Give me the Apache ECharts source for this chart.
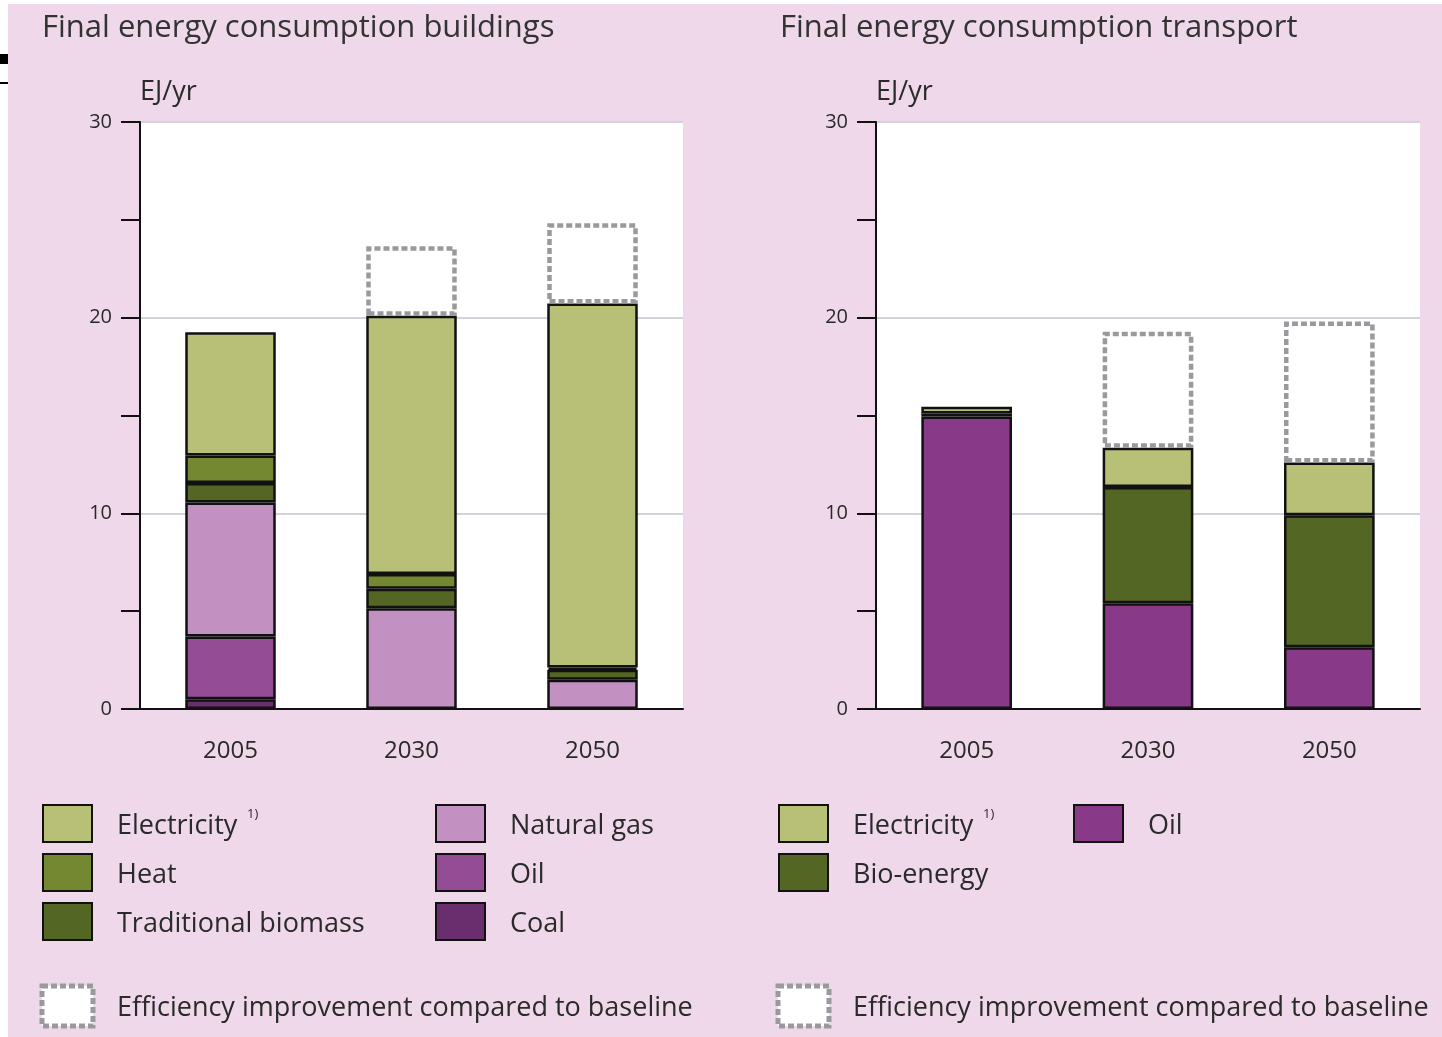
<!DOCTYPE html>
<html>
<head>
<meta charset="utf-8">
<title>Final energy consumption</title>
<script src="https://cdn.jsdelivr.net/npm/echarts@6/dist/echarts.min.js"></script>
<style>
  html, body { margin: 0; padding: 0; background: #fff; }
  #bg { position: absolute; left: 8px; top: 4px; width: 1434px; height: 1033px; background: #efd8ea; }
  #chart { position: absolute; left: 0; top: 0; width: 1442px; height: 1037px; }
</style>
</head>
<body>
<div id="bg"></div>
<div id="chart"></div>
<script>
// categories
const years = ["2005", "2030", "2050"];

// buildings (EJ/yr), bottom -> top
const bCoal = [0.5, null, null];
const bOil = [3.2, null, null];
const bGas = [6.85, 5.15, 1.5];
const bTradBiomass = [1.0, 1.0, 0.5];
const bHeat = [1.4, 0.75, 0.12];
const bElectricity = [6.3, 13.2, 18.6];
const bEfficiency = [null, 3.55, 4.1];

// transport (EJ/yr), bottom -> top
const tOil = [14.95, 5.4, 3.15];
const tBio = [0.15, 5.95, 6.75];
const tElectricity = [0.35, 2.0, 2.7];
const tEfficiency = [null, 5.93, 7.2];

const yTicks = [0, 10, 20, 30];

const COL = {
  elec: "#b8c077",
  heat: "#748731",
  trad: "#536623",
  gas: "#c291c2",
  oil: "#944d94",
  coal: "#6a2d6e",
  tOil: "#883a89",
  bio: "#536623",
  eff: "#9a9a9e"
};
const FONT = "Open Sans";
const TXT = "#2a2a2a";

const chart = echarts.init(document.getElementById("chart"));

function barSeries(name, data, color, axisIdx) {
  return {
    name: name,
    type: "bar",
    stack: "s" + axisIdx,
    xAxisIndex: axisIdx,
    yAxisIndex: axisIdx,
    barWidth: "50%",
    data: data,
    itemStyle: { color: color, borderColor: "#111", borderWidth: 2.5 },
    silent: true
  };
}
function effSeries(data, axisIdx) {
  return {
    name: "Efficiency improvement compared to baseline",
    type: "bar",
    stack: "s" + axisIdx,
    xAxisIndex: axisIdx,
    yAxisIndex: axisIdx,
    barWidth: "50%",
    data: data,
    itemStyle: { color: "#fff", borderColor: COL.eff, borderWidth: 4.5, borderType: [6, 3] },
    silent: true
  };
}

function yAxis(idx) {
  return {
    type: "value",
    gridIndex: idx,
    min: yTicks[0],
    max: yTicks[yTicks.length - 1],
    interval: 10,
    name: "EJ/yr",
    nameLocation: "end",
    nameGap: 30,
    nameTextStyle: { align: "left", verticalAlign: "middle", fontSize: 27, color: TXT, fontFamily: FONT, padding: [0, 0, 0, 0] },
    axisLine: { show: true, lineStyle: { color: "#111", width: 2 } },
    axisTick: { show: true, length: 19, lineStyle: { color: "#111", width: 2 } },
    minorTick: { show: true, splitNumber: 2, length: 19, lineStyle: { color: "#111", width: 2 } },
    axisLabel: { fontSize: 20, color: TXT, fontFamily: FONT, margin: 28 },
    splitLine: { show: true, lineStyle: { color: "#d2d2da", width: 2 } }
  };
}
function xAxis(idx) {
  return {
    type: "category",
    gridIndex: idx,
    data: years,
    axisLine: { show: true, lineStyle: { color: "#111", width: 2 } },
    axisTick: { show: false },
    axisLabel: { fontSize: 24, color: TXT, fontFamily: FONT, margin: 30 }
  };
}

// legend swatches drawn as graphic elements
function swatch(x, y, color, label, sup) {
  const els = [
    { type: "rect", shape: { x: x, y: y, width: 49, height: 37 }, style: { fill: color, stroke: "#111", lineWidth: 2 } },
    { type: "text", x: x + 74, y: y + 21, style: { text: label, font: "27px '" + FONT + "'", fill: TXT, verticalAlign: "middle" } }
  ];
  if (sup) {
    els.push({ type: "text", x: sup, y: y + 9, style: { text: "1)", font: "13px '" + FONT + "'", fill: TXT, verticalAlign: "middle" } });
  }
  return els;
}
function effSwatch(x, y) {
  return [
    { type: "rect", shape: { x: x, y: y, width: 51, height: 40 }, style: { fill: "#fff", stroke: COL.eff, lineWidth: 5, lineDash: [6, 3] } },
    { type: "text", x: x + 75, y: y + 22, style: { text: "Efficiency improvement compared to baseline", font: "27px '" + FONT + "'", fill: TXT, verticalAlign: "middle" } }
  ];
}

const graphics = [].concat(
  [
    { type: "rect", shape: { x: 0, y: 54, width: 8, height: 10 }, style: { fill: "#000" } },
    { type: "rect", shape: { x: 0, y: 82, width: 8, height: 2 }, style: { fill: "#000" } }
  ],
  swatch(43, 805, COL.elec, "Electricity", 247),
  swatch(43, 854, COL.heat, "Heat"),
  swatch(43, 903, COL.trad, "Traditional biomass"),
  swatch(436, 805, COL.gas, "Natural gas"),
  swatch(436, 854, COL.oil, "Oil"),
  swatch(436, 903, COL.coal, "Coal"),
  effSwatch(42, 986),
  swatch(779, 805, COL.elec, "Electricity", 983),
  swatch(779, 854, COL.bio, "Bio-energy"),
  swatch(1074, 805, COL.tOil, "Oil"),
  effSwatch(778, 986)
);

const option = {
  backgroundColor: "transparent",
  animation: false,
  textStyle: { fontFamily: FONT },
  title: [
    { text: "Final energy consumption buildings", left: 42, top: 13, padding: 0,
      textStyle: { fontSize: 31, fontWeight: "normal", color: "#333", fontFamily: FONT } },
    { text: "Final energy consumption transport", left: 780, top: 13, padding: 0,
      textStyle: { fontSize: 31, fontWeight: "normal", color: "#333", fontFamily: FONT } }
  ],
  grid: [
    { left: 140, top: 122, width: 543, height: 587, show: true, backgroundColor: "#fff", borderWidth: 0 },
    { left: 876, top: 122, width: 544, height: 587, show: true, backgroundColor: "#fff", borderWidth: 0 }
  ],
  xAxis: [xAxis(0), xAxis(1)],
  yAxis: [yAxis(0), yAxis(1)],
  series: [
    barSeries("Coal", bCoal, COL.coal, 0),
    barSeries("Oil", bOil, COL.oil, 0),
    barSeries("Natural gas", bGas, COL.gas, 0),
    barSeries("Traditional biomass", bTradBiomass, COL.trad, 0),
    barSeries("Heat", bHeat, COL.heat, 0),
    barSeries("Electricity", bElectricity, COL.elec, 0),
    effSeries(bEfficiency, 0),
    barSeries("Oil (transport)", tOil, COL.tOil, 1),
    barSeries("Bio-energy", tBio, COL.bio, 1),
    barSeries("Electricity (transport)", tElectricity, COL.elec, 1),
    effSeries(tEfficiency, 1)
  ],
  graphic: graphics
};

chart.setOption(option);
</script>
</body>
</html>
